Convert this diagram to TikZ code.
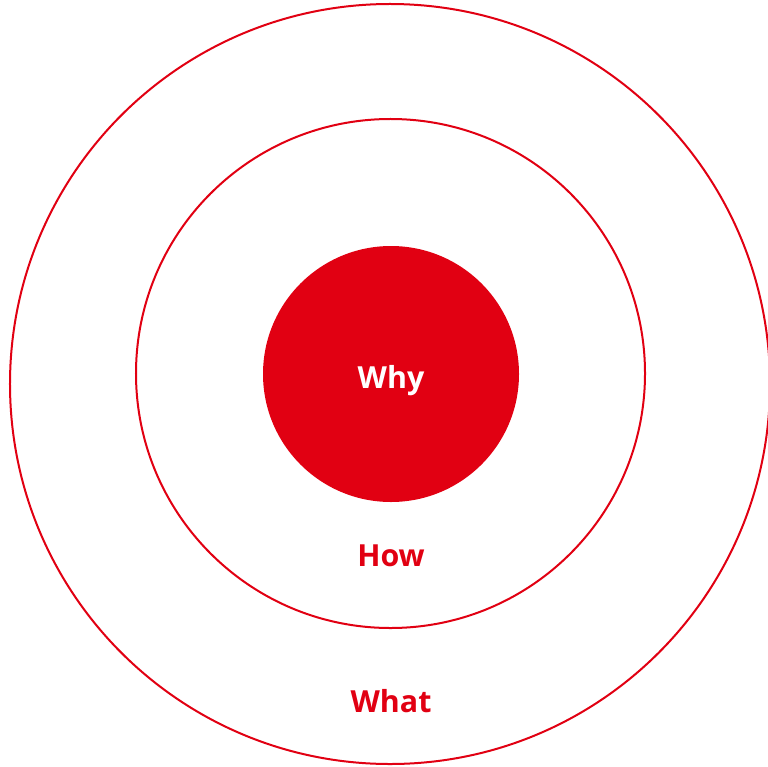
\documentclass[tikz,border=0pt]{standalone}
\usepackage{fontspec}
\setmainfont{Open Sans}
\definecolor{brandred}{HTML}{E10012}
\begin{document}
\begin{tikzpicture}[x=1bp,y=-1bp,
  ring/.style={draw=brandred,line width=2bp},
  lbl/.style={font=\bfseries\fontsize{30.5}{33}\selectfont,inner sep=0pt,anchor=base}]
\useasboundingbox (0,0) rectangle (768,767);
\begin{scope}
\clip (0,0) rectangle (768,767);
\node[circle,ring,minimum size=760bp,inner sep=0pt] (what) at (390,384) {};
\end{scope}
\node[circle,ring,minimum size=509bp,inner sep=0pt] (how) at (390.5,373.5) {};
\node[circle,fill=brandred,minimum size=256bp,inner sep=0pt] (why) at (391,374) {};
\node[lbl,text=white] (whyl) at (391,388) {Why};
\node[lbl,text=brandred] (howl) at (391,566) {How};
\node[lbl,text=brandred] (whatl) at (391,712) {What};
\end{tikzpicture}
\end{document}
